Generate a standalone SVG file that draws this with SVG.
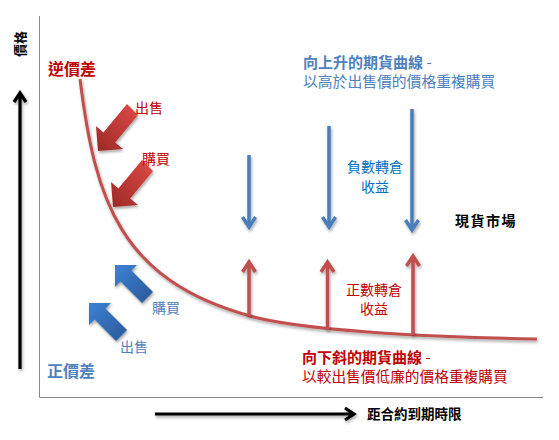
<svg xmlns="http://www.w3.org/2000/svg" width="559" height="440" viewBox="0 0 559 440">
<defs>
<style>
text{font-family:"Noto Sans CJK TC","Noto Sans CJK SC",sans-serif;}
.b{font-weight:bold;}
.red{fill:#c00000;}
.blue{fill:#4f81bd;}
.dblue{fill:#0070c0;}
.blk{fill:#000;}
.frame{stroke:#888;stroke-width:1;fill:none;}
.ax{stroke:#000;stroke-width:3.2;fill:none;}
.dn{stroke:#4a7ebb;stroke-width:3.5;fill:none;}
.up{stroke:#c0504d;stroke-width:3.5;fill:none;}
.curve{stroke:#c0504d;stroke-width:3;fill:none;}
</style>
<linearGradient id="gr" x1="1" y1="0" x2="0" y2="1">
<stop offset="0" stop-color="#de4b47"/>
<stop offset="1" stop-color="#9c2926"/>
</linearGradient>
<linearGradient id="gb" x1="0" y1="0" x2="1" y2="1">
<stop offset="0" stop-color="#3d82d3"/>
<stop offset="1" stop-color="#2a5797"/>
</linearGradient>
<filter id="sh" x="-20%" y="-20%" width="150%" height="150%">
<feDropShadow dx="1" dy="2" stdDeviation="1.5" flood-color="#000" flood-opacity="0.35"/>
</filter>
</defs>

<g id="frame">
<path class="frame" d="M39.5,16 V397.5 H543"/>
</g>

<g id="axes" filter="url(#sh)">
<path class="ax" d="M20,369 V93 M14,102 L20,93 L26,102"/>
<path class="ax" d="M155,414 H354 M345,408 L354,414 L345,420"/>
</g>

<g id="curve" filter="url(#sh)">
<path class="curve" d="M80,79 C95,200 120,280 250,316 C300,330 420,337 537,339"/>
</g>

<g id="connectors">
<g filter="url(#sh)">
<path class="dn" d="M249,155 V226 M242.5,217 L249,227 L255.5,217"/>
<path class="dn" d="M329,126 V226 M322.5,217 L329,227 L335.5,217"/>
<path class="dn" d="M412,109 V229 M405.5,220 L412,230 L418.5,220"/>
<path class="up" d="M249,316 V263 M242.5,272 L249,262 L255.5,272"/>
<path class="up" d="M327.5,330 V263 M321,272 L327.5,262 L334,272"/>
<path class="up" d="M413,335 V257 M406.5,266 L413,256 L419.5,266"/>
</g>
</g>

<g id="red-arrows" filter="url(#sh)">
<polygon fill="url(#gr)" points="98,151 96,126 103.4,132.4 127,104 138,115 115.2,142.4 123,149"/>
<polygon fill="url(#gr)" transform="translate(15,56)" points="98,151 96,126 103.4,132.4 127,104 138,115 115.2,142.4 123,149"/>
</g>

<g id="blue-arrows" filter="url(#sh)">
<polygon fill="url(#gb)" points="115,265 137,265 131.5,270.5 153,292 142,303 120.5,281.5 115,287"/>
<polygon fill="url(#gb)" transform="translate(-26,38)" points="115,265 137,265 131.5,270.5 153,292 142,303 120.5,281.5 115,287"/>
</g>

<g id="labels">
<text class="blk b" font-size="13" transform="translate(25,57) rotate(-90)">價格</text>
<text class="red b" x="48" y="75" font-size="16">逆價差</text>
<text class="blue b" x="47" y="377" font-size="16">正價差</text>
<text class="red" x="135" y="113" font-size="14">出售</text>
<text class="red" x="142" y="164" font-size="14">購買</text>
<text class="blue" x="152" y="313" font-size="14">購買</text>
<text class="blue" x="120" y="352" font-size="14">出售</text>
<text class="dblue" x="375" y="172" font-size="14" text-anchor="middle">負數轉倉</text>
<text class="dblue" x="375" y="192" font-size="14" text-anchor="middle">收益</text>
<text class="red" x="374" y="295" font-size="14" text-anchor="middle">正數轉倉</text>
<text class="red" x="374" y="314" font-size="14" text-anchor="middle">收益</text>
<text class="blk b" x="455" y="226" font-size="14" letter-spacing="1.5">現貨市場</text>
<text class="blk b" x="367" y="419" font-size="13.5">距合約到期時限</text>
<text class="blue" x="303" y="68" font-size="15"><tspan class="b">向上升的期貨曲線</tspan> -</text>
<text class="blue" x="303" y="87" font-size="14.8">以高於出售價的價格重複購買</text>
<text class="red" x="302" y="363" font-size="15"><tspan class="b">向下斜的期貨曲線</tspan> -</text>
<text class="red" x="302" y="382" font-size="14.7">以較出售價低廉的價格重複購買</text>
</g>
</svg>
